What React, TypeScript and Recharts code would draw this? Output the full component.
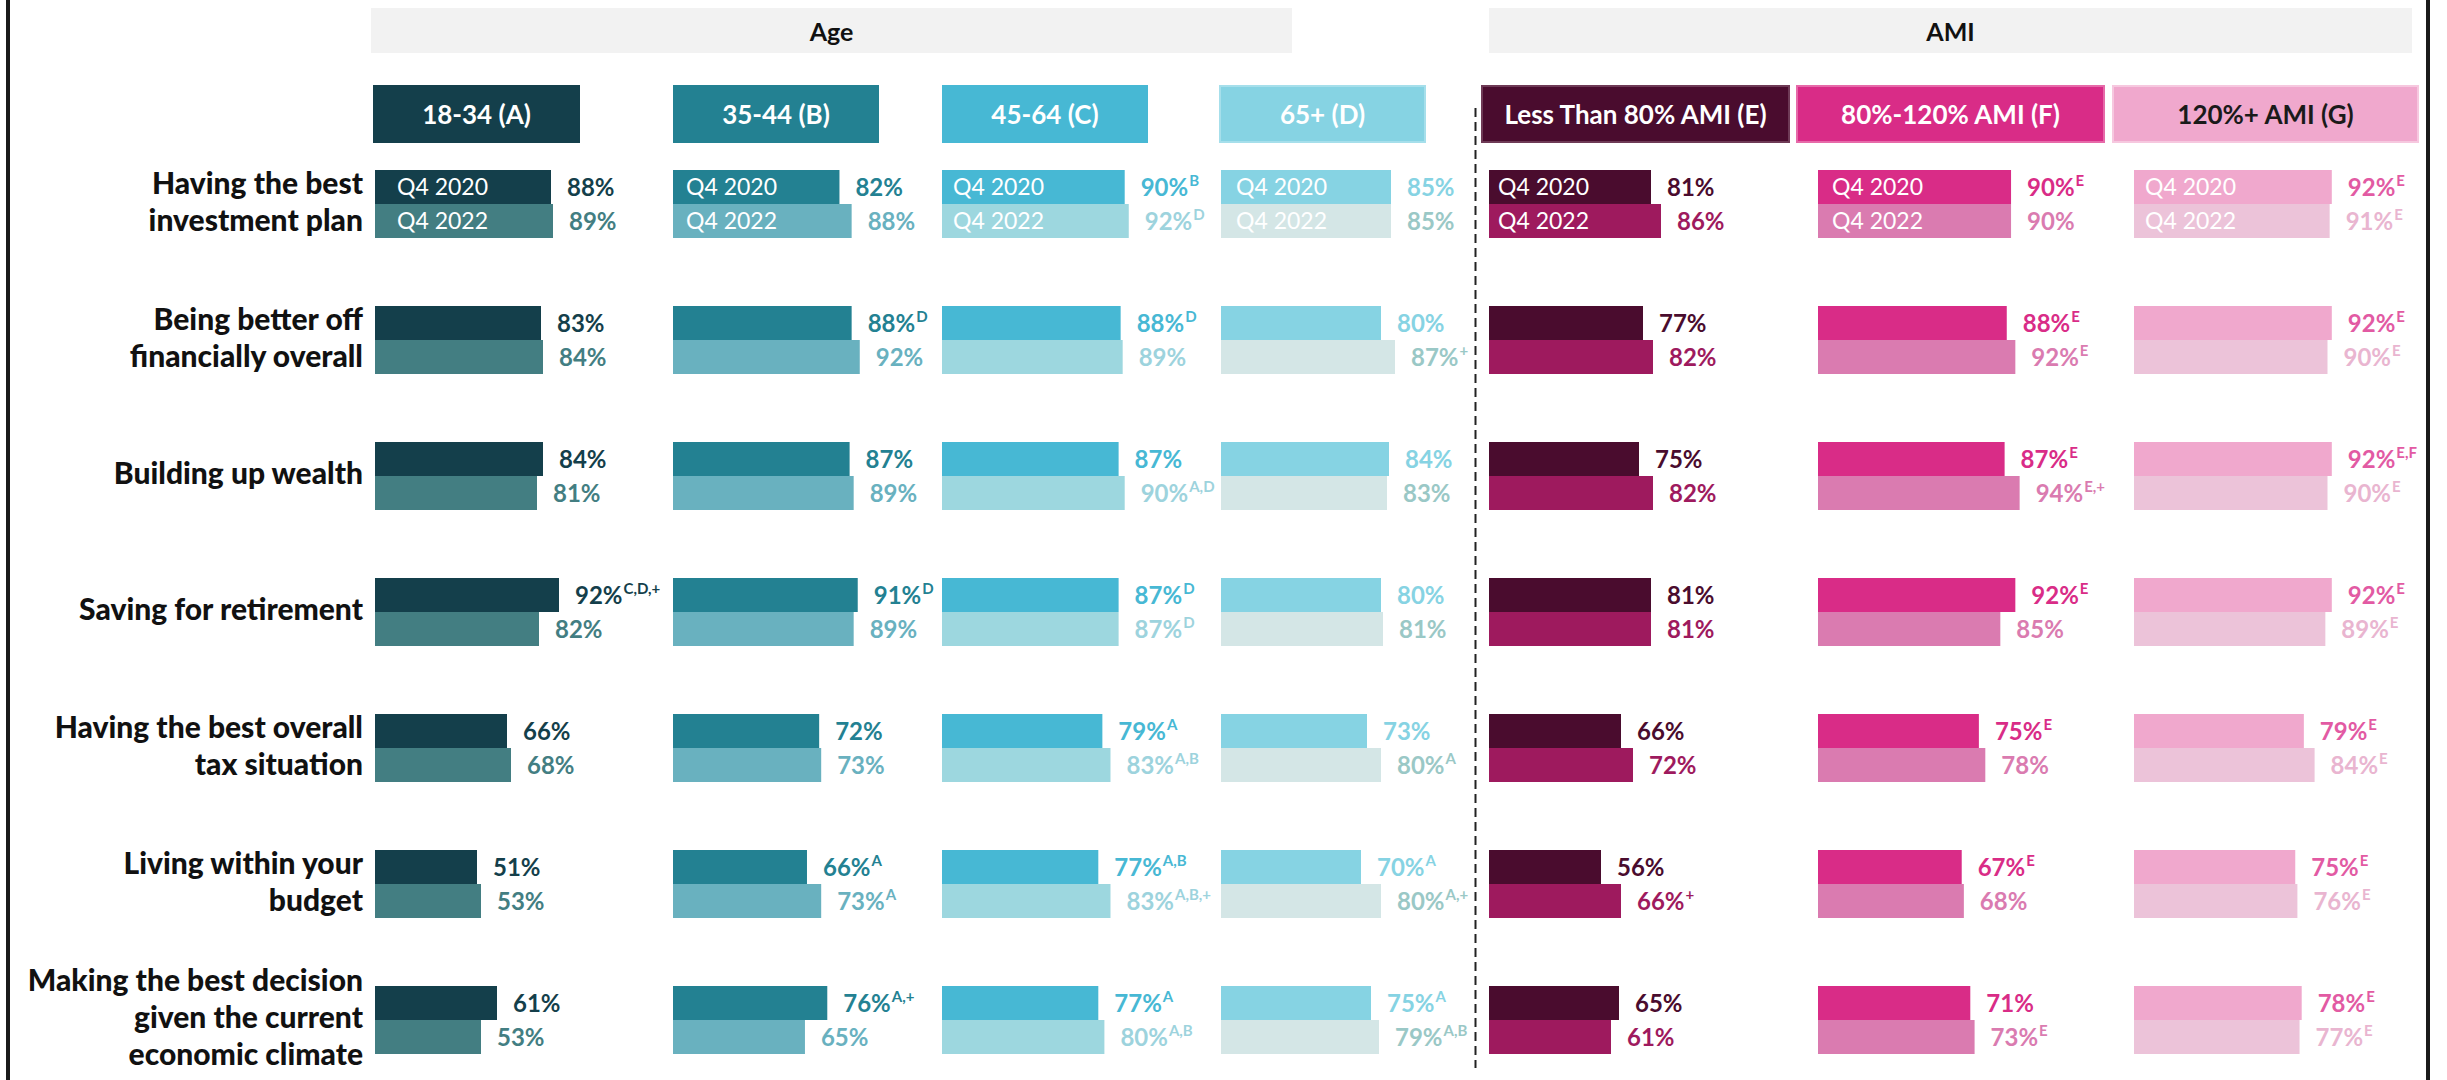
import React from 'react';
import { BarChart, Bar, XAxis, YAxis } from 'recharts';

// ---- data ----
const categories = [
  'Having the best investment plan',
  'Being better off financially overall',
  'Building up wealth',
  'Saving for retirement',
  'Having the best overall tax situation',
  'Living within your budget',
  'Making the best decision given the current economic climate',
];
const categoryLines = [
  ['Having the best', 'investment plan'],
  ['Being better off', 'financially overall'],
  ['Building up wealth'],
  ['Saving for retirement'],
  ['Having the best overall', 'tax situation'],
  ['Living within your', 'budget'],
  ['Making the best decision', 'given the current', 'economic climate'],
];
const seriesNames = ['Q4 2020', 'Q4 2022'];
const groupNames = ['Age', 'AMI'];
const segmentNames = [
  '18-34 (A)', '35-44 (B)', '45-64 (C)', '65+ (D)',
  'Less Than 80% AMI (E)', '80%-120% AMI (F)', '120%+ AMI (G)',
];

const a2020 = [88, 83, 84, 92, 66, 51, 61];
const a2022 = [89, 84, 81, 82, 68, 53, 53];
const a2020Sig = ['', '', '', 'C,D,+', '', '', ''];
const a2022Sig = ['', '', '', '', '', '', ''];

const b2020 = [82, 88, 87, 91, 72, 66, 76];
const b2022 = [88, 92, 89, 89, 73, 73, 65];
const b2020Sig = ['', 'D', '', 'D', '', 'A', 'A,+'];
const b2022Sig = ['', '', '', '', '', 'A', ''];

const c2020 = [90, 88, 87, 87, 79, 77, 77];
const c2022 = [92, 89, 90, 87, 83, 83, 80];
const c2020Sig = ['B', 'D', '', 'D', 'A', 'A,B', 'A'];
const c2022Sig = ['D', '', 'A,D', 'D', 'A,B', 'A,B,+', 'A,B'];

const d2020 = [85, 80, 84, 80, 73, 70, 75];
const d2022 = [85, 87, 83, 81, 80, 80, 79];
const d2020Sig = ['', '', '', '', '', 'A', 'A'];
const d2022Sig = ['', '+', '', '', 'A', 'A,+', 'A,B'];

const e2020 = [81, 77, 75, 81, 66, 56, 65];
const e2022 = [86, 82, 82, 81, 72, 66, 61];
const e2020Sig = ['', '', '', '', '', '', ''];
const e2022Sig = ['', '', '', '', '', '+', ''];

const f2020 = [90, 88, 87, 92, 75, 67, 71];
const f2022 = [90, 92, 94, 85, 78, 68, 73];
const f2020Sig = ['E', 'E', 'E', 'E', 'E', 'E', ''];
const f2022Sig = ['', 'E', 'E,+', '', '', '', 'E'];

const g2020 = [92, 92, 92, 92, 79, 75, 78];
const g2022 = [91, 90, 90, 89, 84, 76, 77];
const g2020Sig = ['E', 'E', 'E,F', 'E', 'E', 'E', 'E'];
const g2022Sig = ['E', 'E', 'E', 'E', 'E', 'E', 'E'];

const build = (v20: number[], v22: number[], s20: string[], s22: string[]) =>
  categories.map((cat, i) => ({ cat, v20: v20[i], v22: v22[i], s20: s20[i], s22: s22[i] }));

const FONT = "Lato, 'Open Sans', sans-serif";
const W = 2447;
const H = 1080;

type Panel = {
  data: ReturnType<typeof build>;
  x0: number;
  plotW: number;
  inside: number;
  bar20: string;
  bar22: string;
  lab20: string;
  lab22: string;
  head: { x1: number; x2: number; bg: string; border?: string; color: string };
};

const panels: Panel[] = [
  { data: build(a2020, a2022, a2020Sig, a2022Sig), x0: 375, plotW: 200, inside: 22,
    bar20: '#143f4b', bar22: '#437e82', lab20: '#143f4b', lab22: '#437e82',
    head: { x1: 373, x2: 580, bg: '#143f4b', color: '#fff' } },
  { data: build(b2020, b2022, b2020Sig, b2022Sig), x0: 673, plotW: 203, inside: 13,
    bar20: '#238192', bar22: '#69b1bf', lab20: '#238192', lab22: '#69b1bf',
    head: { x1: 673, x2: 879, bg: '#238192', color: '#fff' } },
  { data: build(c2020, c2022, c2020Sig, c2022Sig), x0: 942, plotW: 203, inside: 11,
    bar20: '#47b8d4', bar22: '#9dd7df', lab20: '#47b8d4', lab22: '#9dd3dd',
    head: { x1: 942, x2: 1148, bg: '#47b8d4', color: '#fff' } },
  { data: build(d2020, d2022, d2020Sig, d2022Sig), x0: 1221, plotW: 200, inside: 15,
    bar20: '#86d3e3', bar22: '#d4e6e6', lab20: '#86d3e3', lab22: '#9ac8c6',
    head: { x1: 1219, x2: 1426, bg: '#86d3e3', border: '#a6dfeb', color: '#fff' } },
  { data: build(e2020, e2022, e2020Sig, e2022Sig), x0: 1489, plotW: 200, inside: 9,
    bar20: '#4a0c2e', bar22: '#9e1a5e', lab20: '#4a0c2e', lab22: '#9e1a5e',
    head: { x1: 1481, x2: 1790, bg: '#4a0c2e', border: '#6e3a56', color: '#fff' } },
  { data: build(f2020, f2022, f2020Sig, f2022Sig), x0: 1818, plotW: 214.5, inside: 14,
    bar20: '#d92c87', bar22: '#da7bb0', lab20: '#d92c87', lab22: '#da7bb0',
    head: { x1: 1796, x2: 2105, bg: '#d92c87', border: '#e66aa9', color: '#fff' } },
  { data: build(g2020, g2022, g2020Sig, g2022Sig), x0: 2134, plotW: 215, inside: 11,
    bar20: '#f0a8cd', bar22: '#ecc3d9', lab20: '#e25aa3', lab22: '#e9b5d0',
    head: { x1: 2112, x2: 2419, bg: '#f0a8cd', border: '#f6c8df', color: '#1a1a1a' } },
];

function makeShape(p: Panel, series: 0 | 1) {
  return (props: any) => {
    const { x, y, width, height, payload } = props;
    const first = payload && payload.cat === categories[0];
    const value = series === 0 ? payload.v20 : payload.v22;
    const sig = series === 0 ? payload.s20 : payload.s22;
    const cy = y + height / 2;
    return (
      <g>
        <rect x={x} y={y} width={width} height={height} fill={series === 0 ? p.bar20 : p.bar22} />
        {first && (
          <text x={x + p.inside} y={cy + 8} fill="#ffffff" fontSize={23} fontFamily={FONT}>
            {seriesNames[series]}
          </text>
        )}
        <text x={x + width + 16} y={cy + 8.5} fill={series === 0 ? p.lab20 : p.lab22}
          fontSize={24} fontWeight={700} fontFamily={FONT}>
          {value}%
          {sig ? <tspan fontSize={15} dx={1} dy={-10}>{sig}</tspan> : null}
        </text>
      </g>
    );
  };
}

const CategoryTick = (props: any) => {
  const { y, payload } = props;
  const lines = categoryLines[categories.indexOf(payload.value)] || [payload.value];
  const lh = 37;
  const start = y - ((lines.length - 1) * lh) / 2 + 8;
  return (
    <text textAnchor="end" fill="#111" fontSize={30} fontWeight={900} fontFamily={FONT}>
      {lines.map((l: string, i: number) => (
        <tspan key={i} x={363} y={start + i * lh}>{l}</tspan>
      ))}
    </text>
  );
};

function PanelChart({ p, withAxis }: { p: Panel; withAxis: boolean }) {
  return (
    <div style={{ position: 'absolute', left: 0, top: 0 }}>
      <BarChart
        width={W}
        height={1088}
        layout="vertical"
        data={p.data}
        barSize={34}
        barGap={0}
        margin={{ top: 136, bottom: 0, left: withAxis ? 0 : p.x0, right: W - p.x0 - p.plotW }}
      >
        <XAxis type="number" domain={[0, 100]} hide />
        {withAxis ? (
          <YAxis type="category" dataKey="cat" width={p.x0} axisLine={false} tickLine={false}
            tick={<CategoryTick />} interval={0} />
        ) : (
          <YAxis type="category" dataKey="cat" hide />
        )}
        <Bar dataKey="v20" name={seriesNames[0]} isAnimationActive={false} shape={makeShape(p, 0)} />
        <Bar dataKey="v22" name={seriesNames[1]} isAnimationActive={false} shape={makeShape(p, 1)} />
      </BarChart>
    </div>
  );
}

export default function App() {
  const groupBoxes = [
    { name: groupNames[0], x1: 371, x2: 1292 },
    { name: groupNames[1], x1: 1489, x2: 2412 },
  ];
  return (
    <div style={{ position: 'absolute', left: 0, top: 0, width: W, height: H, overflow: 'hidden', background: '#fff', fontFamily: FONT }}>
      {/* frame */}
      <div style={{ position: 'absolute', left: 6, top: 0, width: 4, height: H, background: '#1a1a1a' }} />
      <div style={{ position: 'absolute', left: 2426, top: 0, width: 4, height: H, background: '#1a1a1a' }} />

      {groupBoxes.map((g) => (
        <div key={g.name} style={{
          position: 'absolute', left: g.x1, top: 8, width: g.x2 - g.x1, height: 45,
          background: '#f2f2f2', display: 'flex', alignItems: 'center', justifyContent: 'center',
          fontSize: 25, fontWeight: 700, color: '#111',
        }}>{g.name}</div>
      ))}

      {panels.map((p, i) => (
        <div key={segmentNames[i]} style={{
          position: 'absolute', left: p.head.x1, top: 85, width: p.head.x2 - p.head.x1, height: 58,
          boxSizing: 'border-box', border: p.head.border ? `2px solid ${p.head.border}` : 'none',
          background: p.head.bg, color: p.head.color, display: 'flex', alignItems: 'center',
          justifyContent: 'center', fontSize: 26, fontWeight: 700,
        }}>{segmentNames[i]}</div>
      ))}

      <svg style={{ position: 'absolute', left: 0, top: 0 }} width={W} height={H}>
        <line x1={1475.5} y1={108} x2={1475.5} y2={1068} stroke="#222" strokeWidth={2} strokeDasharray="9 5" />
      </svg>

      {panels.map((p, i) => (
        <PanelChart key={i} p={p} withAxis={i === 0} />
      ))}
    </div>
  );
}
